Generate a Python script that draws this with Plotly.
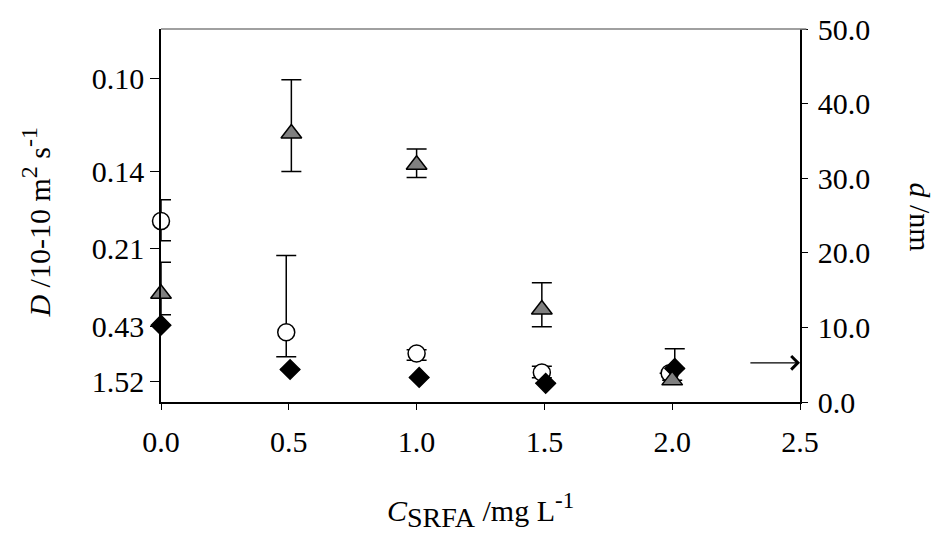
import plotly.graph_objects as go

# C_SRFA (mg/L) positions for each series (slight offsets as in the figure)
x_circle = [0.0, 0.49, 1.0, 1.49, 1.99]
x_diamond = [0.0, 0.505, 1.01, 1.505, 2.01]
x_triangle = [0.0, 0.51, 1.0, 1.49, 2.0]

# d (nm) values and asymmetric error bars
d_circle = [24.25, 9.35, 6.5, 3.95, 3.85]
err_circle_plus = [2.85, 10.3, 0.5, 0.85, 0.0]
err_circle_minus = [2.65, 3.3, 0.9, 0.7, 0.0]

d_diamond = [10.3, 4.35, 3.3, 2.5, 4.5]
err_diamond_plus = [0.0, 0.0, 0.0, 0.0, 2.65]
err_diamond_minus = [0.0, 0.0, 0.0, 0.0, 0.0]

d_triangle = [14.5, 36.0, 31.8, 12.4, 2.9]
err_triangle_plus = [4.25, 7.2, 2.1, 3.6, 0.0]
err_triangle_minus = [2.8, 5.1, 1.7, 2.3, 0.0]

# Left axis: D labels placed at their equivalent d positions
D_tick_pos = [43.4, 30.9, 20.6, 10.1, 2.75]
D_tick_text = ["0.10", "0.14", "0.21", "0.43", "1.52"]

x_ticks = [0.0, 0.5, 1.0, 1.5, 2.0, 2.5]
d_ticks = [0, 10, 20, 30, 40, 50]

arrow_d = 5.25
arrow_x_tail = 2.3
arrow_x_head = 2.5

FONT = "Liberation Serif, Times New Roman, serif"

fig = go.Figure()

def add_series(x, y, ep, em, symbol, fill, size):
    fig.add_trace(go.Scatter(
        x=x, y=y, mode="markers", cliponaxis=False,
        marker=dict(symbol=symbol, size=size, color=fill,
                    line=dict(color="black", width=1.5)),
        error_y=dict(type="data", symmetric=False, array=ep, arrayminus=em,
                     color="black", thickness=1.5, width=10),
        showlegend=False,
    ))

add_series(x_circle, d_circle, err_circle_plus, err_circle_minus, "circle", "white", 17)
add_series(x_diamond, d_diamond, err_diamond_plus, err_diamond_minus, "diamond", "black", 15)
add_series(x_triangle, d_triangle, err_triangle_plus, err_triangle_minus, "triangle-up", "#808080", 18)

# invisible trace to activate right axis
fig.add_trace(go.Scatter(x=[0], y=[0], yaxis="y2", mode="markers",
                         marker=dict(opacity=0), showlegend=False, hoverinfo="skip"))

fig.update_layout(
    width=938, height=533,
    margin=dict(l=161, r=138, t=25, b=131),
    paper_bgcolor="white", plot_bgcolor="white",
    font=dict(family=FONT, size=29, color="black"),
    xaxis=dict(range=[0, 2.5], tickvals=x_ticks, tickformat=".1f",
               showline=True, linecolor="black", linewidth=1.5,
               ticks="outside", ticklen=6, tickwidth=1.2, tickcolor="black",
               ticklabelstandoff=6,
               showgrid=False, zeroline=False, tickfont=dict(size=30)),
    yaxis=dict(range=[0, 50], tickvals=D_tick_pos, ticktext=D_tick_text,
               showline=True, linecolor="black", linewidth=1.5,
               ticks="outside", ticklen=9, tickwidth=1.2, tickcolor="black",
               showgrid=False, zeroline=False, tickfont=dict(size=30)),
    yaxis2=dict(range=[0, 50], tickvals=d_ticks, tickformat=".1f",
                overlaying="y", side="right",
                showline=True, linecolor="black", linewidth=1.5,
                ticks="outside", ticklen=6, tickwidth=1.2, tickcolor="black",
                ticklabelstandoff=4,
                showgrid=False, zeroline=False, tickfont=dict(size=30)),
)

# top border (gray)
fig.add_shape(type="line", xref="paper", yref="paper", x0=0, x1=1.01, y0=1, y1=1,
              line=dict(color="#808080", width=1.5))

# arrow pointing to right axis
fig.add_annotation(x=arrow_x_head, y=arrow_d, ax=arrow_x_tail, ay=arrow_d,
                   xref="x", yref="y", axref="x", ayref="y",
                   showarrow=True, arrowhead=4, arrowsize=2, arrowwidth=1.3,
                   arrowcolor="black", text="")

# axis titles
fig.add_annotation(xref="paper", yref="paper", x=-0.196, y=0.483,
                   text="<i>D</i> /10-10 m<sup><span style='font-size:24px'>2</span></sup> s<sup><span style='font-size:24px'>-1</span></sup>",
                   textangle=-90, showarrow=False, xanchor="center", yanchor="middle",
                   font=dict(size=30))
fig.add_annotation(xref="paper", yref="paper", x=1.188, y=0.497,
                   text="<i>d</i> /nm",
                   textangle=90, showarrow=False, xanchor="center", yanchor="middle",
                   font=dict(size=30))
fig.add_annotation(xref="paper", yref="paper", x=0.5, y=-0.29,
                   text="<i>C</i><sub><span style='font-size:28px'>SRFA</span></sub> /mg L<sup><span style='font-size:23px'>-1</span></sup>",
                   showarrow=False, xanchor="center", yanchor="middle",
                   font=dict(size=30))

fig.write_html("out.html", config={"displayModeBar": False},
               post_script="document.body.style.margin='0';document.body.style.overflow='hidden';")
